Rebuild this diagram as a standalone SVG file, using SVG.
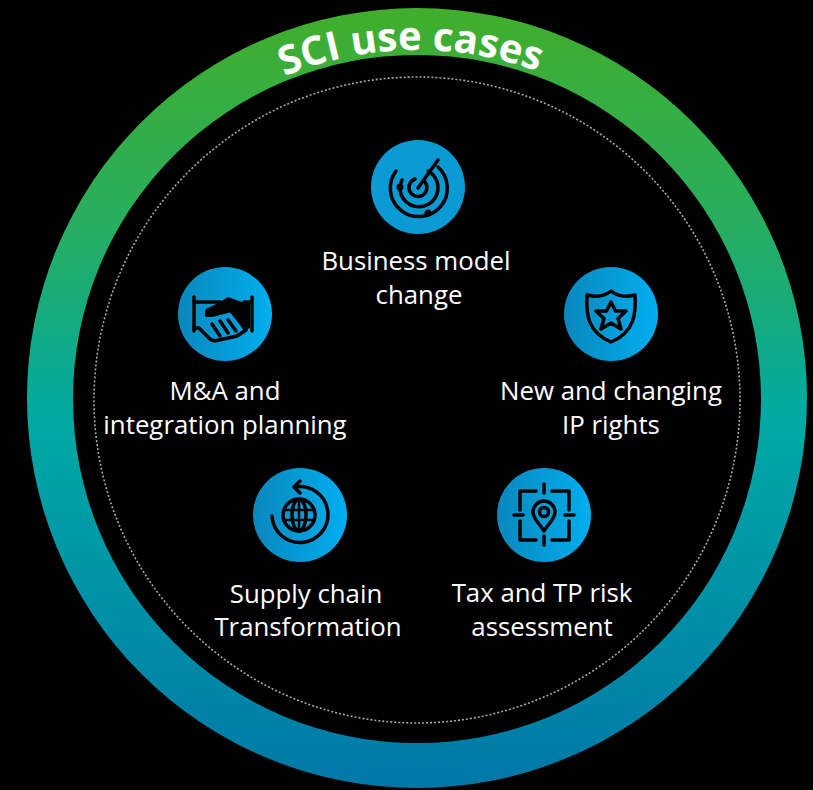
<svg xmlns="http://www.w3.org/2000/svg" width="813" height="790" viewBox="0 0 813 790">
<style>
.lb{font-family:"Open Sans","Liberation Sans",sans-serif;font-size:25.8px;fill:#fff;text-anchor:middle}
.ti{font-family:"Open Sans","Liberation Sans",sans-serif;font-size:40px;font-weight:700;fill:#fff;text-anchor:middle}
.ic{fill:none;stroke:#000;stroke-width:3.5;stroke-linecap:round;stroke-linejoin:round}
.fk{fill:#000;stroke:none}
</style>
<defs>
<linearGradient id="ring" x1="0" y1="0" x2="0" y2="1">
<stop offset="0" stop-color="#41ae2b"/><stop offset=".28" stop-color="#27ae60"/><stop offset=".53" stop-color="#00a9a4"/><stop offset="1" stop-color="#0078a8"/>
</linearGradient>
<linearGradient id="btn" x1="0" y1="0" x2="1" y2="0">
<stop offset="0" stop-color="#0a88bd"/><stop offset="1" stop-color="#00aeef"/>
</linearGradient>
<path id="arc" d="M 69 398 A 348 348 0 0 1 765 398"/>
</defs>
<rect width="813" height="790" fill="#000"/>
<g id="ring-node">
<path fill="url(#ring)" fill-rule="evenodd" d="M27 398a390 390 0 1 0 780 0a390 390 0 1 0-780 0ZM73 399a344 344 0 1 0 688 0a344 344 0 1 0-688 0Z"/>
<text class="ti"><textPath href="#arc" startOffset="540">SCI use cases</textPath></text>
</g>
<g id="connectors">
<circle cx="417" cy="400" r="323" fill="none" stroke="#a8a8a8" stroke-width="1.6" stroke-dasharray="2 2"/>
</g>
<g id="business-model">
<circle cx="418" cy="187" r="47" fill="#0a9ad4"/>
<g class="ic">
<path d="M438 160L418 188"/>
<path d="M415 179A9 9 0 1 0 425 182"/>
<path d="M400 187A19 19 0 1 0 428 171"/>
<path d="M401 183l1-3"/>
<path d="M396 171A28.500 28.500 0 1 0 438 167"/>
</g>
<circle class="fk" cx="428" cy="213" r="3.500"/><circle class="fk" cx="400" cy="187" r="3.500"/>
<text class="lb" x="416" y="270">Business model</text>
<text class="lb" x="419" y="304">change</text>
</g>
<g id="ma-integration">
<circle cx="225" cy="314" r="47" fill="url(#btn)"/>
<g class="ic">
<path d="M194 297v34M252 297v34M194 302h26M244 302h8"/>
<path d="M194 328h5l11 11c3 2 6 2 9 1l18-4l9-6l-14-18"/>
<path d="M212 324l8 12M220 321l8 12M228 320l8 11"/>
</g>
<path class="fk" d="M206 309l14-7l8-5l14 5h8v26l-6 3l-12-19l-20 5h-6c-2-1-1-6 0-8Z"/>
<text class="lb" x="225" y="399.500">M&amp;A and</text>
<text class="lb" x="225" y="433.500">integration planning</text>
</g>
<g id="ip-rights">
<circle cx="611" cy="314" r="47" fill="url(#btn)"/>
<g class="ic">
<path d="M611 291c-5 4-12 7-24 4c-1 18 0 37 24 47c24-10 25-29 24-47c-12 3-19 0-24-4Z"/>
<path d="M611 302l4.500 9h10.500l-8 7.500l3 10.500l-10-6l-10 6l3-10.500l-8-7.500h10.500Z"/>
</g>
<text class="lb" x="611" y="399.500">New and changing</text>
<text class="lb" x="611" y="433.500">IP rights</text>
</g>
<g id="supply-chain">
<circle cx="300" cy="515" r="47" fill="url(#btn)"/>
<g class="ic">
<path d="M295 487A28 28 0 1 1 272 516"/>
<path d="M300 481l-6 6l6 6"/>
<circle cx="299" cy="515" r="16"/>
<ellipse cx="299" cy="515" rx="7" ry="16"/>
<path d="M284 510h30M284 520h30M299 499v32" stroke-width="2.500"/>
</g>
<text class="lb" x="306" y="602.500">Supply chain</text>
<text class="lb" x="308" y="635.500">Transformation</text>
</g>
<g id="tax-risk">
<circle cx="544" cy="515" r="47" fill="url(#btn)"/>
<g class="ic">
<path d="M536 491h-16v19M552 491h17v19M520 521v19h16M569 521v19h-17"/>
<path d="M544 484v9M544 536v9M514 515h9M565 515h9"/>
<path d="M544 531c-4-7-11-12-11-19a11 11 0 0 1 22 0c0 7-7 12-11 19Z"/>
<circle cx="544" cy="512" r="4.500"/>
</g>
<text class="lb" x="542" y="601.500">Tax and TP risk</text>
<text class="lb" x="542" y="635.500">assessment</text>
</g>
</svg>
